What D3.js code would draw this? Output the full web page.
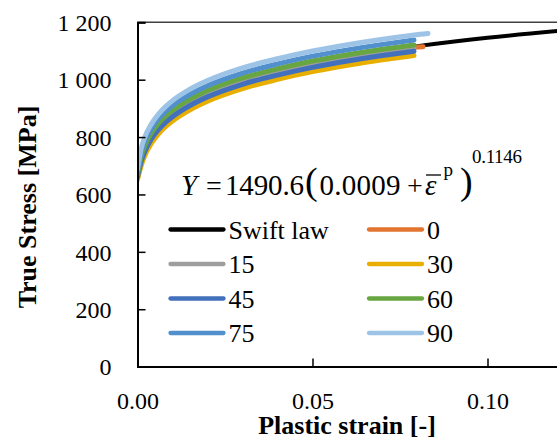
<!DOCTYPE html>
<html><head><meta charset="utf-8">
<script src="https://cdn.jsdelivr.net/npm/d3@7/dist/d3.min.js"></script>
<style>
html,body{margin:0;padding:0;background:#fff;}
svg text{font-family:"Liberation Serif","Times New Roman",serif;}
</style></head>
<body>
<svg id="chart" width="557" height="439"></svg>
<script>
// ---- data ----
const strain = [0, 0.001, 0.002, 0.004, 0.006, 0.008, 0.01, 0.015, 0.02, 0.03, 0.04, 0.05, 0.06, 0.07, 0.079];
const swiftStrain = [0, 0.001, 0.002, 0.004, 0.006, 0.008, 0.01, 0.015, 0.02, 0.03, 0.04, 0.05, 0.06, 0.07, 0.08, 0.10, 0.12, 0.14, 0.15];
const swiftStress = [667, 727, 763, 810, 843, 868, 888, 927, 957, 1001, 1033, 1060, 1082, 1101, 1117, 1146, 1170, 1191, 1200];
const s0  = [665, 724, 760, 807, 840, 865, 885, 924, 954, 998, 1030, 1057, 1079, 1098, 1113];
const s0End = [0.0816, 1115];
const s15 = [664, 722, 758, 805, 838, 863, 883, 922, 952, 996, 1028, 1055, 1077, 1096, 1111];
const s30 = [652, 698, 733, 779, 811, 836, 856, 895, 925, 969, 1001, 1028, 1050, 1069, 1084];
const s45 = [660, 712, 747, 794, 826, 851, 871, 910, 940, 984, 1016, 1043, 1065, 1084, 1099];
const s60 = [670, 731, 767, 815, 848, 873, 893, 932, 962, 1006, 1038, 1065, 1087, 1106, 1121];
const s75 = [680, 745, 783, 830, 864, 889, 910, 949, 979, 1023, 1055, 1082, 1104, 1123, 1138];
const s90 = [687, 757, 797, 846, 880, 906, 927, 967, 997, 1041, 1073, 1100, 1122, 1141, 1156];
const s90End = [0.083, 1161];
const seriesNames = ["Swift law", "0", "15", "30", "45", "60", "75", "90"];
const seriesColors = ["#000000", "#E2742F", "#9E9E9E", "#E8AE00", "#4370BC", "#68A642", "#5190CC", "#9DC3E6"];
const xTicks = [0, 0.05, 0.10];
const yTicks = [0, 200, 400, 600, 800, 1000, 1200];

// ---- build ----
const SERIF = "'Liberation Serif','Times New Roman',serif";
function pts(xs, ys, extra) {
  const p = xs.map((x, i) => [x, ys[i]]);
  if (extra) p.push(extra);
  return p;
}
const series = [
  pts(swiftStrain, swiftStress),
  pts(strain, s0, s0End),
  pts(strain, s15),
  pts(strain, s30),
  pts(strain, s45),
  pts(strain, s60),
  pts(strain, s75),
  pts(strain, s90, s90End)
];

const svg = d3.select("#chart");
const x = d3.scaleLinear().domain([0, 0.15]).range([137.5, 662.5]);
const y = d3.scaleLinear().domain([0, 1200]).range([366.6, 22.3]);

svg.append("defs").append("clipPath").attr("id", "clip")
  .append("rect").attr("x", x(0)).attr("y", y(1200) - 3)
  .attr("width", x(0.15) - x(0)).attr("height", y(0) - y(1200) + 3);

// plot area top border
svg.append("line").attr("x1", x(0)).attr("x2", x(0.15))
  .attr("y1", y(1200)).attr("y2", y(1200))
  .attr("stroke", "#404040").attr("stroke-width", 1.5);

const line = d3.line().x(d => x(d[0])).y(d => y(d[1])).curve(d3.curveMonotoneX);
const g = svg.append("g").attr("clip-path", "url(#clip)");
series.forEach((s, i) => {
  g.append("path").datum(s).attr("d", line)
    .attr("fill", "none").attr("stroke", seriesColors[i])
    .attr("stroke-width", i === 0 ? 4 : 5)
    .attr("stroke-linecap", "round").attr("stroke-linejoin", "round");
});

// axes
const fmtY = d => d >= 1000 ? d3.format(",")(d).replace(",", "\u00A0") : String(d);
const yAxis = d3.axisLeft(y).tickValues(yTicks).tickSize(-8).tickPadding(26).tickFormat(fmtY);
const gy = svg.append("g").attr("transform", `translate(${x(0)},0)`).call(yAxis);
gy.attr("font-family", null);
gy.select(".domain").attr("stroke", "#000").attr("stroke-width", 2);
gy.selectAll(".tick line").attr("stroke", "#000").attr("stroke-width", 1.5);
gy.selectAll("text").attr("font-size", 24).attr("fill", "#000")
  .style("font-family", SERIF).attr("x", -26).attr("dy", "0.34em");

const xAxis = d3.axisBottom(x).tickValues(xTicks).tickSize(-8).tickPadding(0).tickFormat(d3.format(".2f"));
const gx = svg.append("g").attr("transform", `translate(0,${y(0)})`).call(xAxis);
gx.attr("font-family", null);
gx.select(".domain").attr("stroke", "#000").attr("stroke-width", 2);
gx.selectAll(".tick line").attr("stroke", "#000").attr("stroke-width", 1.5);
gx.selectAll("text").attr("font-size", 24).attr("fill", "#000")
  .style("font-family", SERIF).attr("y", 42.5).attr("dy", 0);

// axis titles
svg.append("text").attr("x", 347).attr("y", 433.5).attr("text-anchor", "middle")
  .style("font-family", SERIF).attr("font-weight", "bold").attr("font-size", 26).text("Plastic strain [-]");
svg.append("text").attr("transform", "translate(36,207) rotate(-90)").attr("text-anchor", "middle")
  .style("font-family", SERIF).attr("font-weight", "bold").attr("font-size", 26).text("True Stress [MPa]");

// equation
const eq = svg.append("g").attr("fill", "#000");
function t(txt, xx, yy, size, opts) {
  const e = eq.append("text").attr("x", xx).attr("y", yy).attr("font-size", size)
    .style("font-family", SERIF).text(txt);
  if (opts && opts.italic) e.attr("font-style", "italic");
  if (opts && opts.len) e.attr("textLength", opts.len).attr("lengthAdjust", "spacing");
  return e;
}
t("Y", 181, 195, 29, {italic: true});
t("=", 206, 195, 28);
t("1490.6", 225, 195, 29, {len: 79});
t("(", 305, 194, 38);
t("0.0009", 319.5, 195, 29, {len: 81});
t("+", 407, 195, 28);
t("\u03B5", 425, 195, 29, {italic: true});
eq.append("line").attr("x1", 426).attr("x2", 441).attr("y1", 175).attr("y2", 175)
  .attr("stroke", "#000").attr("stroke-width", 1.3);
t("p", 443.5, 176, 19);
t(")", 460, 194, 38);
t("0.1146", 472, 163, 19, {len: 50});

// legend
const legX = [170.5, 369];
const legY = [229.5, 264, 298.5, 333];
seriesNames.forEach((name, i) => {
  const col = i % 2, row = Math.floor(i / 2);
  const lx = legX[col], ly = legY[row];
  svg.append("line").attr("x1", lx).attr("x2", lx + 53).attr("y1", ly).attr("y2", ly)
    .attr("stroke", seriesColors[i]).attr("stroke-width", 4.3).attr("stroke-linecap", "round");
  svg.append("text").attr("x", lx + 58).attr("y", ly + 9).attr("font-size", 26)
    .style("font-family", SERIF).text(name);
});
</script>
</body></html>
